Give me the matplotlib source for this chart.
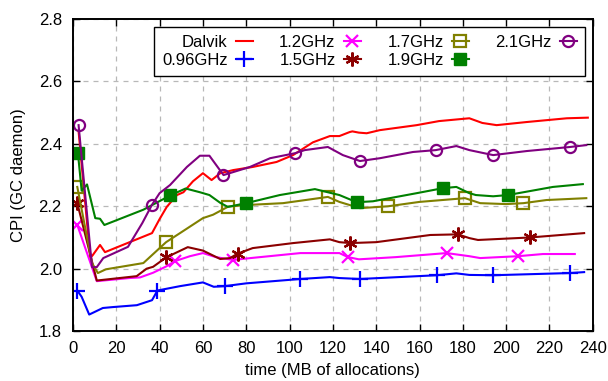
import matplotlib
matplotlib.use("Agg")
import matplotlib.pyplot as plt

plt.rcParams['font.family'] = ['Liberation Sans', 'DejaVu Sans']

# CPI of the GC daemon vs. MB allocated, one series per core frequency
dalvik_x = [2.6, 8, 9.2, 12.5, 14.8, 36.5, 40, 43.3, 48, 51, 55.4, 60, 64, 68, 74, 83, 94,
            101.6, 110.8, 118.6, 123, 127.8, 129, 132, 135.6, 141.7, 158.7, 169, 183, 189,
            195.6, 209.5, 228, 237.7]
dalvik_y = [2.44, 2.034, 2.044, 2.076, 2.053, 2.114, 2.159, 2.198, 2.236, 2.245, 2.28, 2.306,
            2.284, 2.306, 2.316, 2.326, 2.342, 2.364, 2.405, 2.425, 2.425, 2.438, 2.44, 2.436,
            2.434, 2.444, 2.46, 2.473, 2.482, 2.467, 2.46, 2.47, 2.482, 2.484]

f096_x = [2, 4, 7.5, 13.8, 18.5, 29.5, 36.5, 39, 49.4, 60, 65, 70, 80, 105, 118.6, 123,
          132.5, 168, 177, 183, 194, 229.5, 236]
f096_y = [1.93, 1.91, 1.853, 1.874, 1.877, 1.883, 1.899, 1.93, 1.944, 1.956, 1.942, 1.944,
          1.953, 1.967, 1.973, 1.970, 1.967, 1.979, 1.985, 1.98, 1.979, 1.986, 1.989]
f096_marks = [2, 39, 70, 105, 132.5, 168, 194, 229.5]

f12_x = [2, 11, 26, 31, 37, 43, 47, 54, 60, 66, 74, 82, 105, 123, 127, 132, 149, 172.5, 183,
         188, 205.5, 217, 231.7]
f12_y = [2.14, 1.96, 1.97, 1.972, 1.987, 2.007, 2.024, 2.04, 2.05, 2.037, 2.028, 2.034, 2.05,
         2.05, 2.037, 2.03, 2.037, 2.05, 2.04, 2.034, 2.04, 2.047, 2.047]
f12_marks = [2, 47, 74, 127, 172.5, 205.5]

f15_x = [2, 11, 29.4, 34, 37, 43, 53, 60, 68, 72.5, 76, 83, 101.6, 118.6, 123, 128, 140, 165,
         177.7, 183, 187, 211, 236]
f15_y = [2.21, 1.962, 1.976, 2.0, 2.006, 2.036, 2.069, 2.058, 2.031, 2.034, 2.048, 2.066,
         2.082, 2.094, 2.085, 2.082, 2.085, 2.108, 2.11, 2.098, 2.092, 2.1, 2.114]
f15_marks = [2, 43, 76, 128, 177.7, 211]

f17_x = [2, 8.8, 11.5, 15.2, 32.5, 43, 50.3, 60, 64.7, 71.7, 80, 97, 117.7, 123, 132.5, 145.5,
         160, 181, 188, 200, 208, 218.6, 237]
f17_y = [2.262, 2.018, 1.986, 1.998, 2.018, 2.085, 2.118, 2.162, 2.173, 2.199, 2.204, 2.21,
         2.23, 2.214, 2.194, 2.2, 2.214, 2.226, 2.21, 2.207, 2.21, 2.22, 2.226]
f17_marks = [2, 43, 71.7, 117.7, 145.5, 181, 208]

f19_x = [2.3, 4, 6.5, 10.3, 12.5, 14.5, 32.5, 45, 52, 58.6, 63, 68, 71.5, 80, 95.5, 111.7,
         123, 131, 138.5, 158.7, 170.8, 177, 183, 186, 194, 200.8, 221.6, 235.4]
f19_y = [2.37, 2.25, 2.27, 2.162, 2.16, 2.14, 2.189, 2.235, 2.257, 2.245, 2.236, 2.211, 2.198,
         2.21, 2.236, 2.255, 2.236, 2.213, 2.216, 2.242, 2.258, 2.262, 2.242, 2.236, 2.232,
         2.236, 2.262, 2.271]
f19_marks = [2.3, 45, 80, 131, 170.8, 200.8]

f21_x = [2.6, 8.8, 11, 14, 25.4, 32, 36.5, 40, 44.8, 52.6, 58.6, 63, 69.5, 81.7, 91, 102.5,
         107, 117.7, 124.6, 132.5, 141.7, 157, 167.5, 177, 183, 194, 209.5, 229.5, 237]
f21_y = [2.46, 2.005, 2.005, 2.034, 2.07, 2.146, 2.205, 2.242, 2.268, 2.326, 2.362, 2.362,
         2.30, 2.326, 2.354, 2.37, 2.38, 2.39, 2.364, 2.345, 2.354, 2.374, 2.38, 2.393, 2.38,
         2.364, 2.377, 2.39, 2.396]
f21_marks = [2.6, 36.5, 69.5, 102.5, 132.5, 167.5, 194, 229.5]

series = [
    ("Dalvik", dalvik_x, dalvik_y, [], "#ff0000", "", {}),
    ("0.96GHz", f096_x, f096_y, f096_marks, "#0000ff", "+", dict(markersize=11, markeredgewidth=1.6)),
    ("1.2GHz", f12_x, f12_y, f12_marks, "#ff00ff", "x", dict(markersize=9, markeredgewidth=1.6)),
    ("1.5GHz", f15_x, f15_y, f15_marks, "#8b0000", (6, 2, 0), dict(markersize=10, markeredgewidth=1.6)),
    ("1.7GHz", f17_x, f17_y, f17_marks, "#808000", "s", dict(markersize=8, markerfacecolor="none", markeredgewidth=1.6)),
    ("1.9GHz", f19_x, f19_y, f19_marks, "#008000", "s", dict(markersize=8)),
    ("2.1GHz", f21_x, f21_y, f21_marks, "#800080", "o", dict(markersize=8, markerfacecolor="none", markeredgewidth=1.6)),
]

fig = plt.figure(figsize=(6.08, 3.81), dpi=100)
ax = fig.add_axes([0.120, 0.131, 0.855, 0.819])

for name, xs, ys, marks, color, marker, mkw in series:
    every = [xs.index(m) for m in marks]
    ax.plot(xs, ys, color=color, lw=1.5, marker=marker if marker else None,
            markevery=every if every else None, label=name, **mkw)

ax.set_xlim(0, 240)
ax.set_ylim(1.8, 2.8)
ax.set_xticks(range(0, 241, 20))
ax.set_yticks([1.8, 2.0, 2.2, 2.4, 2.6, 2.8])
ax.grid(True, color="#b8b8b8", lw=0.9, linestyle=(0, (4, 4)))
ax.tick_params(direction="in", top=True, right=True, length=5, width=1, labelsize=12)
ax.tick_params(axis="x", pad=7)
ax.tick_params(axis="y", pad=8)
for sp in ax.spines.values():
    sp.set_linewidth(1.4)

ax.set_xlabel("time (MB of allocations)", fontsize=12, labelpad=5)
ax.set_ylabel("CPI (GC daemon)", fontsize=12, labelpad=9)

leg = ax.legend(loc="upper right", bbox_to_anchor=(0.985, 0.975), borderaxespad=0,
                ncol=4, markerfirst=False, fontsize=12, frameon=True, fancybox=False,
                framealpha=1, edgecolor="black", handlelength=1.0, handletextpad=0.5,
                columnspacing=1.6, labelspacing=0.15, borderpad=0.5)
leg.get_frame().set_linewidth(1.0)

fig.savefig("out.png", dpi=100)
